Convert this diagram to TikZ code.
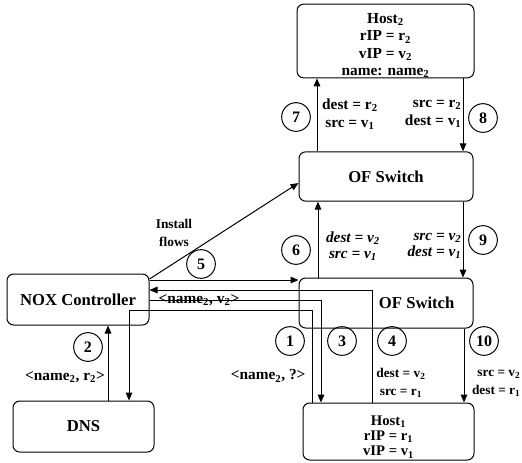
\documentclass[tikz,border=0pt]{standalone}
\usepackage{fontspec}
\setmainfont{Liberation Serif}
\usetikzlibrary{arrows.meta, positioning, calc}

\tikzset{
  box/.style={draw, rounded corners=5pt, inner sep=0pt, align=center, font=\fontsize{12.5}{15}\selectfont\bfseries},
  num/.style={draw, circle, minimum size=21.5pt, inner sep=0pt, font=\fontsize{12}{14}\selectfont\bfseries},
  lbl/.style={inner sep=0pt, align=center, font=\fontsize{11.5}{13.5}\selectfont\bfseries},
  ilbl/.style={lbl, font=\fontsize{11.5}{12}\selectfont\bfseries\itshape},
  small/.style={lbl, font=\fontsize{10}{13.5}\selectfont\bfseries},
  arr/.style={-{Triangle[length=6pt,width=5pt]}},
}

\begin{document}
\begin{tikzpicture}[x=0.75pt,y=-0.75pt,line width=0.75pt]
    \useasboundingbox (0,0) rectangle (522,462);
    % Boxes
    \node[box, minimum width=132.75pt, minimum height=51pt, font=\fontsize{11.5}{13}\selectfont\bfseries] (host2) at (385.5,41)
        {\rule{0pt}{14.5pt}Host\textsubscript{2}\\rIP = r\textsubscript{2}\\vIP = v\textsubscript{2}\\name: name\textsubscript{2}};
    \node[box, minimum width=130.5pt, minimum height=37pt] (sw1) at (386,176.5) {OF Switch};
    \node[box, minimum width=130.5pt, minimum height=37.5pt] (sw0) at (386,303) {\hspace*{46pt}OF Switch};
    \node[box, minimum width=106.5pt, minimum height=38.25pt] (nox) at (78,299.5) {NOX Controller};
    \node[box, minimum width=105.75pt, minimum height=38.25pt] (dns) at (83.5,426.5) {DNS};
    \node[box, minimum width=128.25pt, minimum height=42.75pt, font=\fontsize{11}{11.4}\selectfont\bfseries] (host1) at (388.5,431.5)
        {\rule{0pt}{15.5pt}Host\textsubscript{1}\\rIP = r\textsubscript{1}\\vIP = v\textsubscript{1}};
    % Switch and host links
    \draw[arr] (sw1.north -| 317,0) -- (host2.south -| 317,0);
    \draw[arr] (host2.south -| 463,0) -- (sw1.north -| 463,0);
    \draw[arr] (sw0.north -| 318,0) -- (sw1.south -| 318,0);
    \draw[arr] (sw1.south -| 463,0) -- (sw0.north -| 463,0);
    \draw[arr] (sw0.south -| 464,0) -- (host1.north -| 464,0);
    % Controller links
    \draw[arr] (nox.east |- 0,279) -- (sw1.west |- 0,183);
    \draw[arr] (nox.east |- 0,280) -- (sw0.west |- 0,280);
    \draw[arr] (host1.north -| 372,0) |- (nox.east |- 0,290);
    \draw[arr] (nox.east |- 0,300) -| (host1.north -| 321,0);
    \draw[arr] (host1.north -| 312,0) -- ++(0,-92) -| (dns.north -| 129,0);
    \draw[arr] (dns.north -| 108,0) -- (nox.south -| 108,0);
    % Step numbers
    \foreach \n/\x/\y in {1/290/341, 2/88/347, 3/342/341, 4/392/341, 5/201/264,
                          6/296/250, 7/296/117, 8/483/118, 9/483/240, 10/484/341}
        \node[num] (c\n) at (\x,\y) {\n};
    % Labels
    \node[lbl] (l7) at (350,114) {dest = r\textsubscript{2}\\src = v\textsubscript{1}};
    \node[lbl, anchor=east, align=right] (l8) at (462,114) {src = r\textsubscript{2}\\dest = v\textsubscript{1}};
    \node[ilbl] (l6) at (353,246) {dest = v\textsubscript{2}\\src = v\textsubscript{1}};
    \node[ilbl, anchor=east, align=right] (l9) at (462,246) {src = v\textsubscript{2}\\dest = v\textsubscript{1}};
    \node[small] (l4) at (401,383) {dest = v\textsubscript{2}\\src = r\textsubscript{1}};
    \node[small, anchor=east, align=right] (l10) at (521,383) {src = v\textsubscript{2}\\dest = r\textsubscript{1}};
    \node[lbl, anchor=east] (l1) at (306,376) {<name\textsubscript{2}, ?>};
    \node[lbl] (l2) at (65,377) {<name\textsubscript{2}, r\textsubscript{2}>};
    \node[lbl] (l3) at (199,300) {<name\textsubscript{2}, v\textsubscript{2}>};
    \node[small] (inst) at (174,233) {Install\\flows};
\end{tikzpicture}
\end{document}
